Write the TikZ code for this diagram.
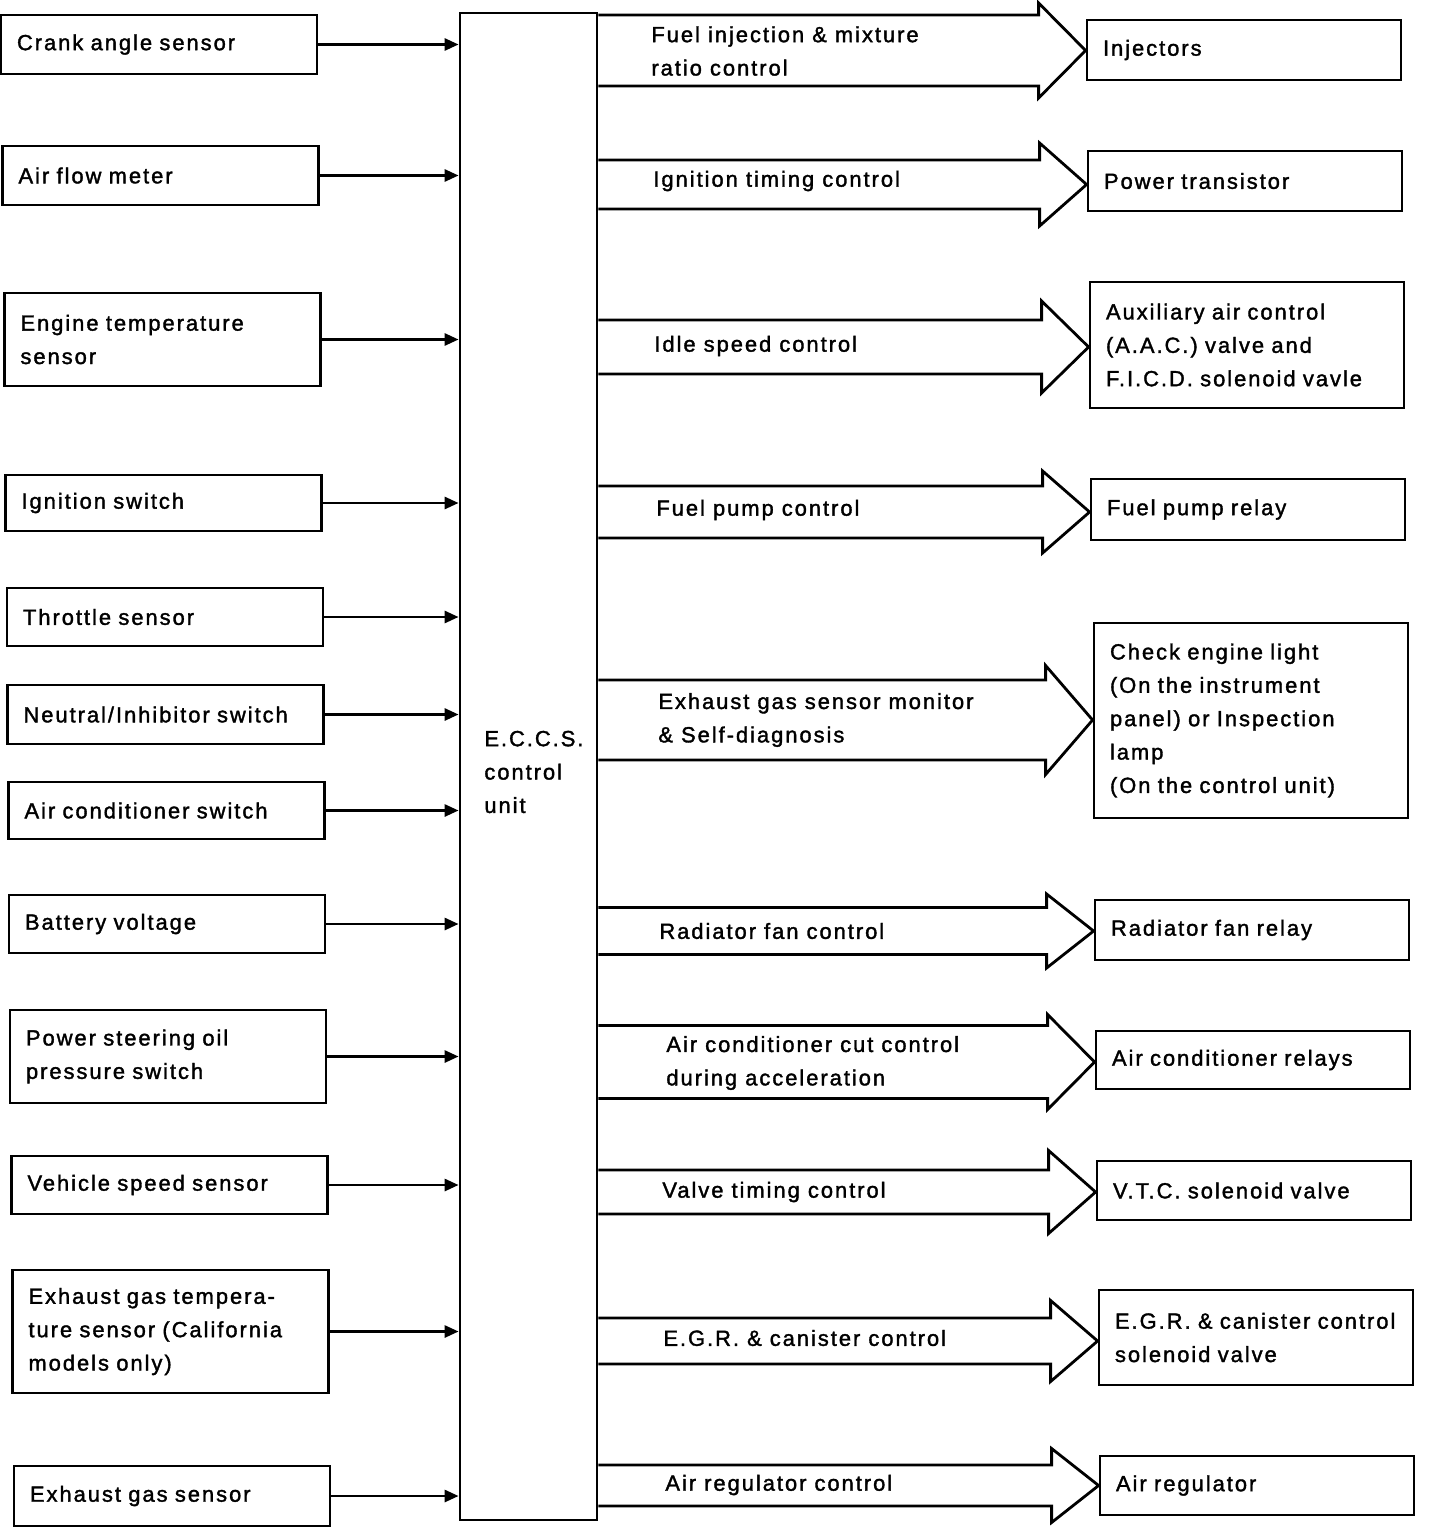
\documentclass[tikz,border=0pt]{standalone}
\usepackage{fontspec}
\setmainfont{Liberation Sans}[LetterSpace=9,FakeBold=1.6]
\usetikzlibrary{arrows.meta,calc}
\newcommand\bigarrow[4]{%
  \draw[harrow] (ecu.east |- 0,{#1-#2})
    -- ($(#4.west |- 0,#1)+(-47,-#2)$)
    -- ($(#4.west |- 0,#1)+(-47,-#3)$)
    -- (#4.west |- 0,#1)
    -- ($(#4.west |- 0,#1)+(-47,#3)$)
    -- ($(#4.west |- 0,#1)+(-47,#2)$)
    -- (ecu.east |- 0,{#1+#2});}
\begin{document}
\begin{tikzpicture}[x=1bp,y=-1bp,line width=2.8bp,
  txt/.style={font=\fontsize{22}{33.5}\selectfont},
  inbox/.style={draw,rectangle,txt,align=left,text width=284bp,inner xsep=16bp,inner ysep=0pt,minimum width=316bp},
  outbox/.style={draw,rectangle,txt,align=left,text width=282bp,inner xsep=16bp,inner ysep=0pt,minimum width=314bp},
  lbl/.style={txt,align=left,anchor=west,inner sep=0pt},
  inarr/.style={-{Triangle[length=14bp,width=12bp]}},
  harrow/.style={line join=miter}]
\useasboundingbox (0,0) rectangle (1440,1528);
% central unit
\node[draw,rectangle,minimum width=137bp,minimum height=1507bp,inner sep=0pt] (ecu) at (528.5,766.5) {};
\node[lbl] (ecul) at (483,772) {E.C.C.S.\\control\\unit};
% inputs
\node[inbox,minimum height=59bp] (b1) at (159,44.5) {Crank angle sensor};
\node[inbox,minimum height=59bp] (b2) at (160.5,175.5) {Air flow meter};
\node[inbox,minimum height=93bp] (b3) at (162.5,339.5) {Engine temperature\\sensor};
\node[inbox,minimum height=56bp] (b4) at (163.5,503) {Ignition switch};
\node[inbox,minimum height=58bp] (b5) at (165,617) {Throttle sensor};
\node[inbox,minimum height=59bp] (b6) at (165.5,714.5) {Neutral/Inhibitor switch};
\node[inbox,minimum height=57bp] (b7) at (166.5,810.5) {Air conditioner switch};
\node[inbox,minimum height=58bp] (b8) at (167,924) {Battery voltage};
\node[inbox,minimum height=93bp] (b9) at (168,1056.5) {Power steering oil\\pressure switch};
\node[inbox,minimum height=58bp] (b10) at (169.5,1185) {Vehicle speed sensor};
\node[inbox,minimum height=123bp] (b11) at (170.5,1331.5) {Exhaust gas tempera-\\ture sensor (California\\models only)};
\node[inbox,minimum height=60bp] (b12) at (172,1496) {Exhaust gas sensor};
\foreach \b in {b1,b2,b3,b4,b5,b6,b7,b8,b9,b10,b11,b12}
  \draw[inarr] (\b.east) -- (\b.east -| ecu.west);
% outputs
\node[outbox,minimum height=60bp] (r1) at (1244,50) {Injectors};
\node[outbox,minimum height=60bp] (r2) at (1245,181) {Power transistor};
\node[outbox,minimum height=126bp] (r3) at (1247,345) {Auxiliary air control\\(A.A.C.) valve and\\F.I.C.D. solenoid vavle};
\node[outbox,minimum height=61bp] (r4) at (1248,509.5) {Fuel pump relay};
\node[outbox,minimum height=195bp] (r5) at (1251,720.5) {Check engine light\\(On the instrument\\panel) or Inspection\\lamp\\(On the control unit)};
\node[outbox,minimum height=60bp] (r6) at (1252,930) {Radiator fan relay};
\node[outbox,minimum height=58bp] (r7) at (1253,1060) {Air conditioner relays};
\node[outbox,minimum height=59bp] (r8) at (1254,1190.5) {V.T.C. solenoid valve};
\node[outbox,minimum height=95bp] (r9) at (1256,1337.5) {E.G.R. \& canister control\\solenoid valve};
\node[outbox,minimum height=59bp] (r10) at (1257,1485.5) {Air regulator};
% hollow arrows
\bigarrow{50.5}{35.5}{47.5}{r1}
\bigarrow{184.5}{24.5}{41.5}{r2}
\bigarrow{347}{27}{46}{r3}
\bigarrow{512}{26}{41}{r4}
\bigarrow{720}{40}{54.5}{r5}
\bigarrow{931}{23.5}{37}{r6}
\bigarrow{1062}{36.5}{47.5}{r7}
\bigarrow{1192}{22}{41.5}{r8}
\bigarrow{1341}{23}{40.5}{r9}
\bigarrow{1485.5}{20.5}{37}{r10}
% arrow labels
\node[lbl] (l1) at (650,51) {Fuel injection \& mixture\\ratio control};
\node[lbl] (l2) at (652,181) {Ignition timing control};
\node[lbl] (l3) at (653,346) {Idle speed control};
\node[lbl] (l4) at (655,510) {Fuel pump control};
\node[lbl] (l5) at (657,720) {Exhaust gas sensor monitor\\\& Self-diagnosis};
\node[lbl] (l6) at (658,931) {Radiator fan control};
\node[lbl] (l7) at (665,1063) {Air conditioner cut control\\during acceleration};
\node[lbl] (l8) at (661,1192) {Valve timing control};
\node[lbl] (l9) at (662,1338) {E.G.R. \& canister control};
\node[lbl] (l10) at (664,1485) {Air regulator control};
\end{tikzpicture}
\end{document}
